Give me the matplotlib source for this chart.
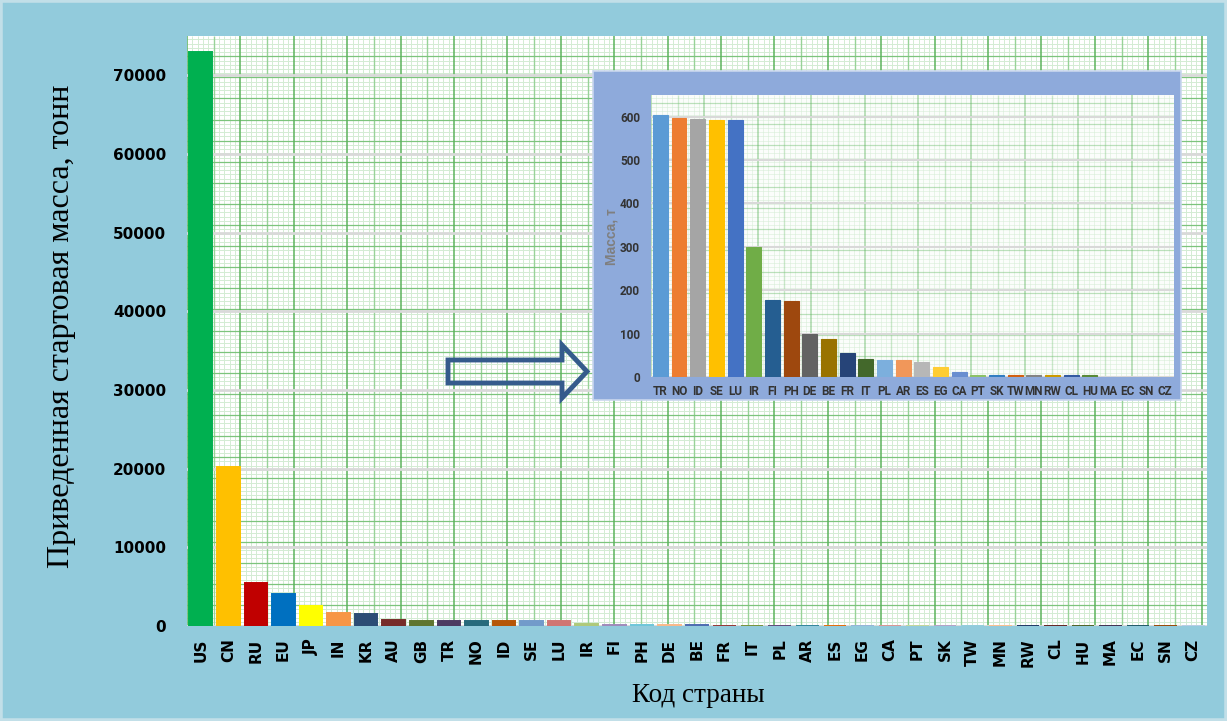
import matplotlib
matplotlib.use('Agg')
import matplotlib.pyplot as plt
from matplotlib.collections import LineCollection
from matplotlib.patches import Rectangle, Polygon

# country codes, sorted by mass
countries = ['US', 'CN', 'RU', 'EU', 'JP', 'IN', 'KR', 'AU', 'GB', 'TR', 'NO', 'ID',
             'SE', 'LU', 'IR', 'FI', 'PH', 'DE', 'BE', 'FR', 'IT', 'PL', 'AR', 'ES',
             'EG', 'CA', 'PT', 'SK', 'TW', 'MN', 'RW', 'CL', 'HU', 'MA', 'EC', 'SN', 'CZ']
# reduced launch mass, t
mass_t = [73000, 20200, 5440, 4050, 2600, 1650, 1520, 760, 650, 604, 597, 595,
          593, 593, 300, 178, 176, 98, 87, 55, 42, 40, 40, 34,
          23, 12, 5.5, 5.5, 3.5, 3.5, 3.5, 3.5, 3.5, 1, 1, 0.5, 1]

main_colors = ['#00b050', '#ffc000', '#c00000', '#0070c0', '#ffff00', '#f79646', '#2c4d75',
               '#772c2a', '#5f7530', '#4d3b62', '#276a7c', '#b65708', '#729aca', '#d07573',
               '#afc97a', '#a08bbb', '#6fc6d9', '#f9b98a', '#4f6db1', '#953735', '#77933c',
               '#604a7b', '#31859c', '#e46c0a', '#95b3d7', '#d99694', '#c3d69b', '#b3a2c7',
               '#93cddd', '#fac090', '#1f3864', '#632523', '#4f6228', '#403152', '#215968',
               '#984807', '#b9cde5']

# zoomed part: everything from TR on
inset_countries = countries[9:]
inset_mass = mass_t[9:]
inset_colors = ['#5b9bd5', '#ed7d31', '#a5a5a5', '#ffc000', '#4472c4', '#70ad47', '#255e91',
                '#9e480e', '#636363', '#997300', '#264478', '#43682b', '#7cafdd', '#f1975a',
                '#b7b7b7', '#ffcd33', '#698ed0', '#8cc168', '#327dc2', '#d26012', '#848484',
                '#cc9a00', '#335aa1', '#5a8a39', '#a3c4e5', '#f4b183', '#c9c9c9', '#ffd966']

W, H = 1227, 721
BG = '#92cbdc'


def draw_paper(ax, w_px, h_px, alpha=1.0):
    # graph paper behind the bars (axes fraction coords)
    sx = 26.7 / w_px / 5
    sy = 21.1 / h_px / 5
    fine, mid, dark, hmid = [], [], [], []
    i = 0
    while i * sx <= 1.0:
        x = i * sx
        seg = [(x, 0), (x, 1)]
        if i % 10 == 0:
            dark.append(seg)
        elif i % 5 == 0:
            mid.append(seg)
        else:
            fine.append(seg)
        i += 1
    j = 0
    while j * sy <= 1.0:
        y = j * sy
        seg = [(0, y), (1, y)]
        if j % 5 == 0:
            hmid.append(seg)
        else:
            fine.append(seg)
        j += 1
    for segs, col, lw in [(fine, '#d3ecd3', 0.7), (mid, '#98d298', 1.0),
                          (hmid, '#7cc47c', 0.9), (dark, '#5cb35c', 1.1)]:
        ax.add_collection(LineCollection(segs, colors=col, linewidths=lw, alpha=alpha,
                                         transform=ax.transAxes, zorder=0.1),
                          autolim=False)


fig = plt.figure(figsize=(W / 100, H / 100), dpi=100)
fig.patch.set_facecolor(BG)
fig.patches.append(Rectangle((0, 0), 1, 1, transform=fig.transFigure, fill=False,
                             edgecolor='#c2dfe8', linewidth=4, zorder=0))

# main chart
ax = fig.add_axes([187 / W, 1 - 626 / H, 1020 / W, 590 / H])
ax.set_facecolor('white')
draw_paper(ax, 1020, 590)
# thin same-colour edge keeps the tiny bars visible, like the original
ax.bar(range(len(countries)), mass_t, width=0.82, color=main_colors,
       edgecolor=main_colors, linewidth=1.4, zorder=2)
ax.set_xlim(-0.5, len(countries) - 0.5)
ax.set_ylim(0, 75000)
ax.set_yticks(range(0, 80000, 10000))
ax.yaxis.grid(True, color='#d9d9d9', linewidth=2, zorder=1)
ax.set_axisbelow(True)
for s in ax.spines.values():
    s.set_visible(False)
ax.set_xticks(range(len(countries)))
ax.set_xticklabels(countries, rotation=90, fontsize=11, fontweight='bold')
ax.tick_params(axis='x', length=0, pad=9)
ax.tick_params(axis='y', length=0, pad=15, labelsize=11)
for lab in ax.get_yticklabels():
    lab.set_fontweight('bold')

fig.text(62 / W, 1 - 326 / H, 'Приведенная стартовая масса, тонн', rotation=90,
         ha='center', va='center', fontsize=23, family='Liberation Serif')
fig.text(698 / W, 1 - 695 / H, 'Код страны', ha='center', va='center',
         fontsize=19.5, family='Liberation Serif')

# inset box
fig.patches.append(Rectangle((593 / W, 1 - 400 / H), 588 / W, 329 / H,
                             transform=fig.transFigure, facecolor='#8eaadb',
                             edgecolor='#c9d7ee', linewidth=1.2, zorder=2))

ins = fig.add_axes([651 / W, 1 - 377 / H, 523 / W, 282 / H], zorder=3)
ins.set_facecolor('#fbfdfb')
draw_paper(ins, 523, 282, alpha=0.5)
ins.bar(range(len(inset_countries)), inset_mass, width=0.8, color=inset_colors,
        edgecolor=inset_colors, linewidth=0.8, zorder=2)
ins.set_xlim(-0.5, len(inset_countries) - 0.5)
ins.set_ylim(0, 650)
ins.set_yticks(range(0, 700, 100))
ins.yaxis.grid(True, color='#d9d9d9', linewidth=1.5, zorder=1)
ins.set_axisbelow(True)
for s in ins.spines.values():
    s.set_visible(False)
ins.set_xticks(range(len(inset_countries)))
small = ['Roboto', 'DejaVu Sans']
ins.set_xticklabels(inset_countries, fontsize=8.5, fontweight='bold', family=small,
                    color='#333333')
ins.tick_params(axis='x', length=0, pad=6)
ins.tick_params(axis='y', length=0, pad=8)
for lab in ins.get_yticklabels():
    lab.set_fontweight('bold')
    lab.set_family(small)
    lab.set_fontsize(8.5)
    lab.set_color('#333333')
fig.text(611 / W, 1 - 237 / H, 'Масса, т', rotation=90, ha='center', va='center',
         fontsize=10, fontweight='bold', color='#7f7f7f', family='Liberation Sans')

# hollow block arrow pointing at the inset
pts = [(448, 360), (562, 360), (562, 345), (587, 371.5), (562, 398), (562, 383), (448, 383)]
fig.patches.append(Polygon([(x / W, 1 - y / H) for x, y in pts], closed=True,
                           transform=fig.transFigure, fill=False,
                           edgecolor='#355b8c', linewidth=3.5, zorder=4))

fig.savefig('out.png', dpi=100, facecolor=fig.get_facecolor())
plt.close(fig)
